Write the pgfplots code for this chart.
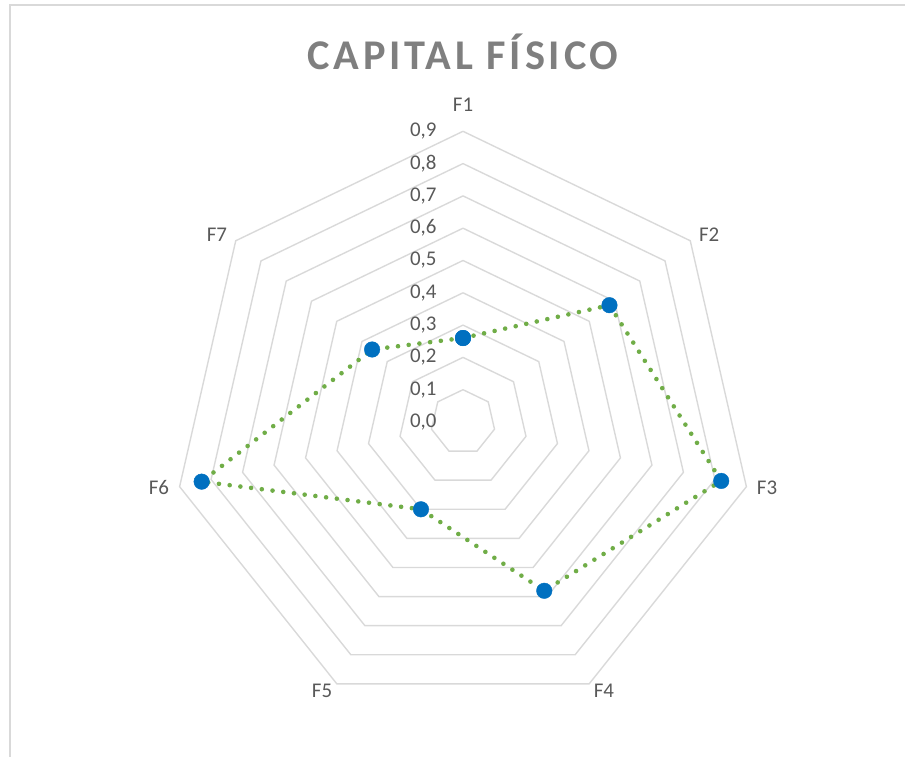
\documentclass[border=0pt]{standalone}
\usepackage{fontspec}
\setmainfont{Carlito}
\newfontfamily\titlefont[LetterSpace=9]{Carlito}
\usepackage{pgfplots}
\pgfplotsset{compat=1.18}
\usepgfplotslibrary{polar}
\definecolor{gridgray}{RGB}{217,217,217}
\definecolor{txtgray}{RGB}{89,89,89}
\definecolor{titlegray}{RGB}{127,127,127}
\definecolor{ptblue}{RGB}{0,112,192}
\definecolor{lngreen}{RGB}{112,173,71}
\tikzset{lbl/.style={text=txtgray, font=\fontsize{21}{24}\selectfont}}

\begin{document}
\begin{tikzpicture}[x=1bp,y=1bp]
\useasboundingbox (0,0) rectangle (905,757);
\draw[gridgray, line width=1.5bp] (10,0) -- (10,752) -- (905,752);
\node[font=\titlefont\fontsize{42.5}{48}\selectfont\bfseries, text=titlegray] at (463,705) {CAPITAL FÍSICO};
\begin{polaraxis}[at={(463bp,335bp)}, anchor=center, scale only axis,
  width=581.4bp, height=581.4bp, ymin=0, ymax=0.9, xmin=0, xmax=360,
  hide axis, clip=false]
% heptagonal grid, one ring per 0.1
\pgfplotsinvokeforeach{0.1,0.2,0.3,0.4,0.5,0.6,0.7,0.8,0.9}{
  \addplot[gridgray, line width=1.4bp] coordinates
    {(90,#1)(38.571,#1)(-12.857,#1)(-64.286,#1)(-115.714,#1)(-167.143,#1)(-218.571,#1)(90,#1)};
}
% F1..F7, clockwise from the top
\addplot[lngreen, line width=4.6bp, dash pattern=on 0bp off 10.8bp, line cap=round,
  mark=*, mark size=7.8bp,
  mark options={solid, draw=ptblue, fill=ptblue, line width=0.4bp}]
  coordinates {(90,0.26)(38.571,0.58)(-12.857,0.82)(-64.286,0.58)
               (-115.714,0.30)(-167.143,0.83)(-218.571,0.36)(90,0.26)};
\foreach \r/\t in {0/0,0.1/1,0.2/2,0.3/3,0.4/4,0.5/5,0.6/6,0.7/7,0.8/8,0.9/9}{
  \edef\tmp{\noexpand\node[lbl, anchor=east, xshift=-23bp]
    at (axis cs:90,\r) {0,\t};}\tmp
}
\foreach \a/\r/\n in {90/0.981/F1,37.31/0.958/F2,-12.16/0.963/F3,-62.34/0.940/F4,
                      -117.66/0.940/F5,-167.84/0.963/F6,-217.31/0.958/F7}{
  \edef\tmp{\noexpand\node[lbl] at (axis cs:\a,\r) {\n};}\tmp
}
\end{polaraxis}
\end{tikzpicture}
\end{document}
